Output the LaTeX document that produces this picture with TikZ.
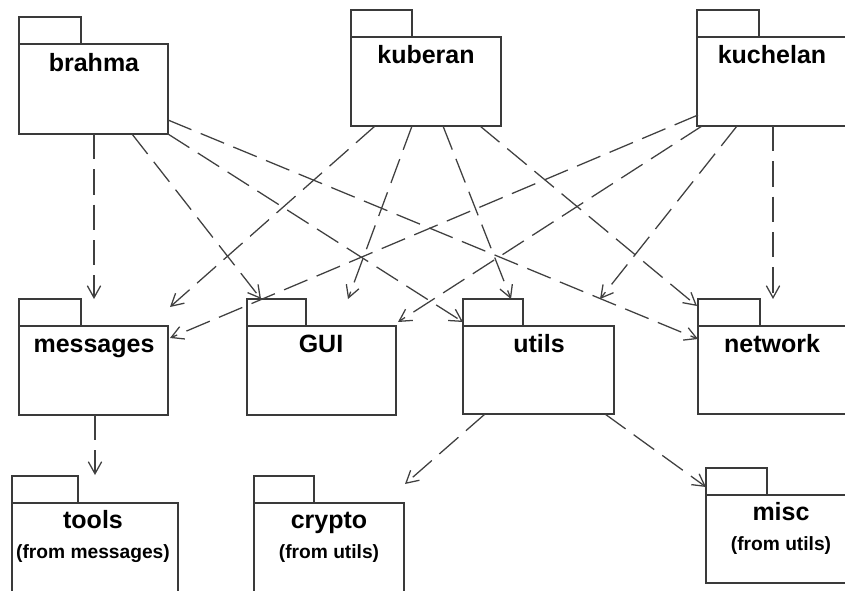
\documentclass[tikz,border=0pt]{standalone}
\usepackage{fontspec}
\setmainfont{Liberation Sans}
\usetikzlibrary{arrows.meta,calc,fit}

\definecolor{pkgdraw}{HTML}{3A3A3A}
\definecolor{depdraw}{HTML}{404040}

% Draw a UML package: name, left x, tab top y, tab right x, right x, bottom y
\newcommand\umlpkg[6]{%
  \draw[pkgline] (#2,#3) rectangle (#4,#3+27);
  \draw[pkgline,fill=white] (#2,#3+27) rectangle (#5,#6);
  \node[pkgbox, fit={(#2,#3) (#5,#6)}] (#1) {};
}

\begin{document}
\begin{tikzpicture}[
  x=0.75pt, y=-0.75pt,
  pkgline/.style={draw=pkgdraw, line width=1.1pt},
  pkgbox/.style={inner sep=0pt, outer sep=0pt},
  pkgtitle/.style={anchor=base, inner sep=0pt, font=\bfseries\fontsize{18.75}{20}\selectfont},
  pkgsub/.style={anchor=base, inner sep=0pt, font=\bfseries\fontsize{14.4}{16}\selectfont},
  dep/.style={draw=depdraw, line width=0.95pt, dash pattern=on 19pt off 7.5pt,
              -{Straight Barb[length=9pt,width=10pt,line width=0.95pt]}},
]
\useasboundingbox (0,0) rectangle (845,590);
\clip (0,0) rectangle (845,590);
\fill[white] (0,0) rectangle (845,590);

% top row
\umlpkg{brahma}{19}{17}{81}{168}{134}
\umlpkg{kuberan}{351}{10}{412}{501}{126}
\umlpkg{kuchelan}{697}{10}{759}{860}{126}
% middle row
\umlpkg{messages}{19}{299}{81}{168}{415}
\umlpkg{GUI}{247}{299}{306}{396}{415}
\umlpkg{utils}{463}{299}{523}{614}{414}
\umlpkg{network}{698}{299}{760}{860}{414}
% bottom row
\umlpkg{tools}{12}{476}{78}{178}{600}
\umlpkg{crypto}{254}{476}{314}{404}{600}
\umlpkg{misc}{706}{468}{767}{860}{583}

% package names
\node[pkgtitle] (brahma-t)   at (94,71)   {brahma};
\node[pkgtitle] (kuberan-t)  at (426,63)  {kuberan};
\node[pkgtitle] (kuchelan-t) at (772,63)  {kuchelan};
\node[pkgtitle] (messages-t) at (94,352)  {messages};
\node[pkgtitle] (GUI-t)      at (321,352) {GUI};
\node[pkgtitle] (utils-t)    at (539,352) {utils};
\node[pkgtitle] (network-t)  at (772,352) {network};
\node[pkgtitle] (tools-t)    at (93,528)  {tools};
\node[pkgsub]   (tools-s)    at (93,558)  {(from messages)};
\node[pkgtitle] (crypto-t)   at (329,528) {crypto};
\node[pkgsub]   (crypto-s)   at (329,558) {(from utils)};
\node[pkgtitle] (misc-t)     at (781,520) {misc};
\node[pkgsub]   (misc-s)     at (781,550) {(from utils)};

% dependencies of brahma
\draw[dep] ($(brahma.south west)+(75,0)$) -- ($(messages.north west)+(75,0)$);
\draw[dep] ($(brahma.south west)+(113,0)$) -- ($(GUI.north west)+(14,0)$);
\draw[dep] (brahma.south east) -- ($(utils.north west)+(0,23)$);
\draw[dep] ($(brahma.north east)+(0,103)$) -- ($(network.north west)+(0,40)$);
% dependencies of kuberan
\draw[dep] ($(kuberan.south west)+(24,0)$) -- ($(messages.north east)+(2,8)$);
\draw[dep] ($(kuberan.south west)+(61,0)$) -- ($(GUI.north west)+(101,0)$);
\draw[dep] ($(kuberan.south west)+(92,0)$) -- ($(utils.north west)+(48,0)$);
\draw[dep] ($(kuberan.south west)+(129,0)$) -- ($(network.north west)+(-1,7)$);
% dependencies of kuchelan
\draw[dep] ($(kuchelan.north west)+(1,105)$) -- ($(messages.north east)+(2,39)$);
\draw[dep] ($(kuchelan.south west)+(5,0)$) -- ($(GUI.north east)+(2,23)$);
\draw[dep] ($(kuchelan.south west)+(40,0)$) -- ($(utils.north west)+(137,0)$);
\draw[dep] ($(kuchelan.south west)+(76,0)$) -- ($(network.north west)+(75,0)$);
% nested packages
\draw[dep] ($(messages.south west)+(76,0)$) -- ($(tools.north west)+(83,-1)$);
\draw[dep] ($(utils.south west)+(22,0)$) -- ($(crypto.north east)+(1,8)$);
\draw[dep] ($(utils.south west)+(142,0)$) -- ($(misc.north west)+(0,19)$);
\end{tikzpicture}
\end{document}
